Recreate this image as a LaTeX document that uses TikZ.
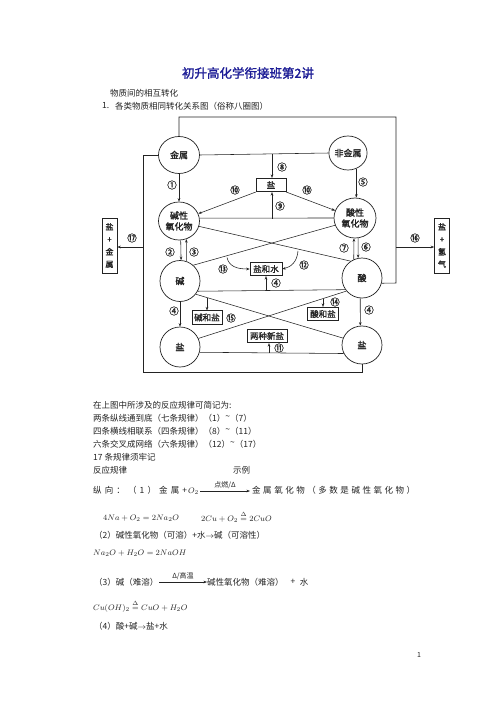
\documentclass[tikz,border=0pt]{standalone}
\usepackage[no-math]{fontspec}
\setmainfont{Noto Sans CJK SC}
\newfontfamily\cjkb[FakeBold=1.6]{Noto Sans CJK SC}
\usetikzlibrary{shapes.geometric,arrows.meta,calc}
\definecolor{titleblue}{RGB}{28,28,150}
\definecolor{ink}{RGB}{35,35,35}
\tikzset{
  ball/.style={draw=ink, ellipse, line width=0.7pt, minimum width=41pt, minimum height=37pt, inner sep=0pt,
    align=center, font=\cjkb\fontsize{9}{11}\selectfont, text=ink},
  sbox/.style={draw=ink, rectangle, line width=0.6pt, inner sep=1.5pt, minimum height=13.5pt,
    font=\cjkb\fontsize{8.5}{10}\selectfont, text=ink},
  vbox/.style={draw=ink, rectangle, line width=0.6pt, inner sep=0pt, minimum width=15pt, minimum height=55pt,
    align=center, font=\cjkb\fontsize{8}{12.5}\selectfont, text=ink},
  lab/.style={inner sep=0pt, font=\cjkb\fontsize{9.5}{9.5}\selectfont, text=ink},
  conn/.style={draw=ink, line width=0.55pt},
  arr/.style={conn, -{Stealth[length=3.5pt,width=2.6pt]}},
  txt/.style={anchor=west, inner sep=0pt, font=\fontsize{8.5}{10}\selectfont, text=ink},
  mth/.style={anchor=west, inner sep=0pt, font=\fontsize{8.5}{10}\selectfont, text=ink},
  small/.style={inner sep=0pt, font=\fontsize{7}{8}\selectfont, text=ink}
}
\begin{document}
\begin{tikzpicture}[x=1pt,y=-1pt]
\useasboundingbox (0,0) rectangle (496,702);
\fill[white] (0,0) rectangle (496,702);

% heading
\node[inner sep=0pt, font=\cjkb\fontsize{12.5}{14}\selectfont, text=titleblue] (title) at (248,73) {初升高化学衔接班第2讲};
\node[txt] (h1) at (110,93) {物质间的相互转化};
\node[txt] (h2n) at (102,106) {1.};
\node[txt] (h2) at (115,106) {各类物质相同转化关系图（俗称八圈图）};

% circles
\node[ball] (m) at (179,155) {金属};
\node[ball, minimum width=38pt, minimum height=34pt] (nm) at (348,153) {非金属};
\node[ball, minimum height=38pt] (bo) at (179,221) {碱性\\氧化物};
\node[ball, minimum width=42pt, minimum height=40pt] (ao) at (355,218) {酸性\\氧化物};
\node[ball, minimum width=40pt, minimum height=41pt] (base) at (180,281) {碱};
\node[ball, minimum width=40pt, minimum height=40pt] (acid) at (362,278) {酸};
\node[ball, minimum width=40pt, minimum height=40pt] (saltL) at (180,347) {盐};
\node[ball, minimum width=40pt, minimum height=38pt] (saltR) at (362,345) {盐};

% boxes
\node[sbox, minimum width=30pt] (sb) at (271,185) {盐};
\node[sbox, minimum width=32pt] (sw) at (266,269) {盐和水};
\node[sbox, minimum width=30pt] (bs) at (207,317.5) {碱和盐};
\node[sbox, minimum width=31pt] (as) at (323,314) {酸和盐};
\node[sbox, minimum width=40pt] (ns) at (267,336) {两种新盐};
\node[vbox] (bl) at (109.5,245.5) {盐\\+\\金\\属};
\node[vbox] (br) at (442,245.5) {盐\\+\\氢\\气};

% frame lines
\coordinate (tr) at (396,117);
\coordinate (rj) at (396,283);
\coordinate (lt) at (143,155);
\coordinate (lb) at (143,372);
\coordinate (rb) at (362,372);
\coordinate (j17) at (143,247);
\coordinate (j16) at (396,247);
\draw[conn] (m.north) -- (m.north |- tr) -- (tr) -- (rj) -- (acid.-15);
\draw[conn] (m.west) -- (lt) -- (lb) -- (rb) -- (saltR.south);
\draw[arr] (j17) -- (bl.east |- j17);
\draw[arr] (j16) -- (br.west |- j16);

% horizontal links
\draw[conn] (m.east) -- (nm.west);
\draw[conn] (bo.8) -- (ao.west);
\draw[conn] (base.-30) -- (acid.-145);
\draw[conn] (saltL.-15) -- (saltR.-155);

% crossing links
\draw[conn] (bo.-15) -- (acid.124);
\draw[conn] (ao.200) -- (base.50);
\draw[conn] (base.-40) -- (saltR.160);
\draw[conn] (acid.-140) -- (saltL.25);

% salt box arrows
\coordinate (c8) at (272,154);
\coordinate (c9) at (272,218.5);
\draw[arr] (c8) -- (c8 |- sb.north);
\draw[arr] (c9) -- (c9 |- sb.south);
\draw[arr] (sb.south west) -- (bo);
\draw[arr] (sb.south east) -- (ao);

% vertical arrows
\draw[arr] (m.south) -- (bo.north);
\draw[arr] (bo.-85) -- (base.87);
\draw[arr] (base.72) -- (bo.-68);
\draw[arr] (base.south) -- (saltL.north);
\draw[arr] (nm.-62) -- (nm.-62 |- ao.north);
\draw[arr] (ao.-81) -- (acid.101);
\draw[arr] (acid.114) -- (ao.-93);
\draw[arr] (acid.-95) -- (saltR.95);

% product arrows
\coordinate (c4) at (266,290.5);
\coordinate (c11) at (269,352.6);
\coordinate (c15) at (207,297.5);
\coordinate (c14) at (323,298.5);
\draw[arr] (c4) -- (sw.south);
\draw[arr] (c11) -- (c11 |- ns.south);
\draw[arr] (c15) -- (c15 |- bs.north);
\draw[arr] (c14) -- (c14 |- as.north);
\coordinate (c13) at (227,257.5);
\coordinate (c12) at (298,251);
\draw[arr] (c13) .. controls (229,266) and (236,269) .. (sw.west);
\draw[arr] (c12) .. controls (297,262) and (291,267) .. (sw.east);

% labels
\node[lab] (l1) at (172,185) {①};
\node[lab] (l2) at (170,252) {②};
\node[lab] (l3) at (194,252) {③};
\node[lab] (l4a) at (174,311) {④};
\node[lab] (l5) at (363,182) {⑤};
\node[lab] (l6) at (366,247) {⑥};
\node[lab] (l7) at (344,248) {⑦};
\node[lab] (l4b) at (369,310) {④};
\node[lab] (l8) at (282,167) {⑧};
\node[lab] (l9) at (280,206) {⑨};
\node[lab] (l10a) at (235,190) {⑩};
\node[lab] (l10b) at (307,190) {⑩};
\node[lab] (l11) at (279,348) {⑪};
\node[lab] (l12) at (304,265) {⑫};
\node[lab] (l13) at (223,269) {⑬};
\node[lab] (l4c) at (276,283) {④};
\node[lab] (l14) at (335,302) {⑭};
\node[lab] (l15) at (231,318) {⑮};
\node[lab] (l16) at (415,238) {⑯};
\node[lab] (l17) at (132,238) {⑰};

% text below
\node[txt] (t1) at (93,405) {在上图中所涉及的反应规律可简记为:};
\node[txt] (t2) at (93,418) {两条纵线通到底（七条规律）（1）\raisebox{2pt}{\textasciitilde}（7）};
\node[txt] (t3) at (93,431) {四条横线相联系（四条规律）（8）\raisebox{2pt}{\textasciitilde}（11）};
\node[txt] (t4) at (93,444) {六条交叉成网络（六条规律）（12）\raisebox{2pt}{\textasciitilde}（17）};
\node[txt] (t5) at (93,457) {17 条规律须牢记};
\node[txt] (t6a) at (93,470) {反应规律};
\node[txt] (t6b) at (233,470) {示例};

\node[txt] (t7a) at (93,490) {\makebox[94pt][s]{纵\hfill 向\hfill ：\hfill （\hfill 1\hfill ）\hfill 金\hfill 属\hfill +}};
\node[mth] (t7b) at (188,491) {$O_2$};
\coordinate (a7s) at (200,491);
\coordinate (a7e) at (250,491);
\draw[arr] (a7s) -- (a7e);
\node[small] (t7c) at (225,485) {点燃/Δ};
\node[txt] (t7d) at (252,490) {\makebox[163pt][s]{金\hfill 属\hfill 氧\hfill 化\hfill 物\hfill （\hfill 多\hfill 数\hfill 是\hfill 碱\hfill 性\hfill 氧\hfill 化\hfill 物\hfill ）}};

\node[mth] (t8a) at (103,518) {$4Na+O_2=2Na_2O$};
\node[mth] (t8b) at (201,517) {$2Cu+O_2\stackrel{\Delta}{=}2CuO$};
\node[txt] (t9) at (94,535) {（2）碱性氧化物（可溶）+水$\rightarrow$碱（可溶性）};
\node[mth] (t10) at (93,553) {$Na_2O+H_2O=2NaOH$};

\node[txt] (t11a) at (94,582) {（3）碱（难溶）};
\coordinate (a11s) at (159,582);
\coordinate (a11e) at (207,582);
\draw[arr] (a11s) -- (a11e);
\node[small] (t11b) at (183,576) {Δ/高温};
\node[txt] (t11c) at (207,582) {碱性氧化物（难溶）};
\node[txt, anchor=center] (t11d) at (293,582) {+};
\node[txt, anchor=center] (t11e) at (304,582) {水};

\node[mth] (t12) at (93,606) {$Cu(OH)_2\stackrel{\Delta}{=}CuO+H_2O$};
\node[txt] (t13) at (94,626) {（4）酸+碱$\rightarrow$盐+水};
\node[txt, anchor=center, font=\fontsize{7}{8}\selectfont] (pg) at (419,655) {1};
\end{tikzpicture}
\end{document}
